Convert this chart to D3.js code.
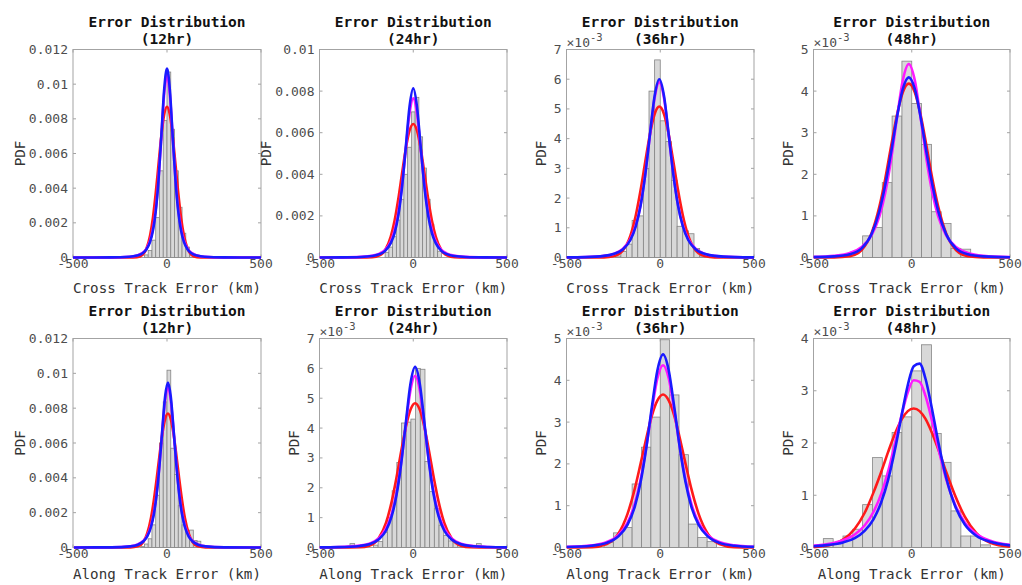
<!DOCTYPE html>
<html>
<head>
<meta charset="utf-8">
<script src="https://cdn.jsdelivr.net/npm/d3@7"></script>
<style>
  body { margin: 0; background: #fff; }
  text { font-family: "DejaVu Sans Mono", monospace; }
</style>
</head>
<body>
<div class="chart"></div>
<script>
// PDF values are in units of 1e-3, x values in km

var hours = ["12hr", "24hr", "36hr", "48hr"];
var rowLabels = ["Cross Track Error (km)", "Along Track Error (km)"];
var xTicks = [-500, 0, 500];
var yMax = [12, 10, 7, 5, 12, 7, 5, 4];
var yStep = [2, 2, 1, 1, 2, 1, 1, 1];
var useExponent = [false, false, true, true, false, true, true, true];

// histogram bins: first left edge, bin width, heights
var binStart = [-120, -290, -240, -250, -140, -337.5, -300, -450];
var binWidth = [20, 20, 30, 50, 20, 25, 50, 50];
var histCross12 = [0.15, 0.4, 1.0, 2.3, 5.0, 7.9, 10.7, 7.4, 5.0, 2.9, 1.4, 0.6, 0.25, 0.1];
var histCross24 = [0.05, 0, 0, 0, 0, 0, 0, 0.25, 0.5, 1.0, 1.8, 2.8, 4.0, 5.3, 7.0, 7.7, 5.8, 4.3, 2.8, 1.6, 0.8, 0.3];
var histCross36 = [0.05, 0.2, 0.45, 1.25, 1.4, 3.0, 5.6, 6.65, 4.6, 3.9, 2.6, 1.05, 0.9, 0.8, 0.3, 0.05];
var histCross48 = [0.52, 0.72, 1.8, 3.4, 4.72, 3.7, 2.72, 1.1, 0.82, 0.22, 0.2];
var histAlong12 = [0.05, 0.2, 0.5, 1.3, 3.0, 6.0, 8.36, 10.18, 5.7, 4.2, 2.4, 1.3, 0.9, 1.0, 0.4, 0.36, 0.05];
var histAlong24 = [0.13, 0, 0, 0, 0, 0.08, 0.2, 0.5, 1.0, 1.9, 2.85, 4.17, 4.2, 4.3, 6.0, 5.97, 2.88, 1.87, 1.3, 0.75, 0.4, 0.22, 0.2, 0.08, 0, 0, 0, 0.13, 0, 0, 0, 0.03];
var histAlong36 = [0.12, 0.35, 0.48, 1.52, 2.4, 3.12, 4.97, 3.65, 2.22, 0.56, 0.24, 0.14];
var histAlong48 = [0.17, 0.08, 0.22, 0.35, 0.82, 1.72, 1.37, 2.2, 2.5, 3.38, 3.88, 2.18, 1.63, 0.7, 0.22, 0.22, 0.05];

// fitted curves (red, magenta, blue)
var xCross12 = [-500, -300, -200, -160, -130, -110, -90, -75, -60, -45, -30, -15, 0, 15, 30, 45, 60, 75, 90, 110, 130, 160, 200, 300, 500];
var redCross12 = [0, 0, 0, 0.02, 0.16, 0.49, 1.27, 2.29, 3.71, 5.38, 7.03, 8.25, 8.7, 8.25, 7.03, 5.38, 3.71, 2.29, 1.27, 0.49, 0.16, 0.02, 0, 0, 0];
var magCross12 = [0.001, 0.007, 0.045, 0.12, 0.27, 0.50, 0.98, 1.64, 2.76, 4.55, 6.99, 9.43, 10.5, 9.43, 6.99, 4.55, 2.76, 1.64, 0.98, 0.50, 0.27, 0.12, 0.045, 0.007, 0.001];
var blueCross12 = [0.001, 0.006, 0.04, 0.11, 0.24, 0.46, 0.90, 1.54, 2.65, 4.48, 7.05, 9.70, 10.9, 9.70, 7.05, 4.48, 2.65, 1.54, 0.90, 0.46, 0.24, 0.11, 0.04, 0.006, 0.001];

var xCross24 = [-500, -380, -280, -220, -180, -150, -120, -100, -80, -60, -40, -20, 0, 20, 40, 60, 80, 100, 120, 150, 180, 220, 280, 380, 500];
var redCross24 = [0, 0, 0, 0.01, 0.10, 0.35, 1.00, 1.75, 2.80, 4.03, 5.22, 6.10, 6.42, 6.10, 5.22, 4.03, 2.80, 1.75, 1.00, 0.35, 0.10, 0.01, 0, 0, 0];
var magCross24 = [0.002, 0.007, 0.031, 0.085, 0.19, 0.37, 0.77, 1.29, 2.13, 3.45, 5.20, 6.91, 7.65, 6.91, 5.20, 3.45, 2.13, 1.29, 0.77, 0.37, 0.19, 0.085, 0.031, 0.007, 0.002];
var blueCross24 = [0.002, 0.006, 0.024, 0.07, 0.16, 0.32, 0.69, 1.16, 2.00, 3.37, 5.28, 7.24, 8.13, 7.24, 5.28, 3.37, 2.00, 1.16, 0.69, 0.32, 0.16, 0.07, 0.024, 0.006, 0.002];

var xCross36 = [-500, -400, -300, -250, -200, -160, -130, -105, -80, -55, -30, -5, 20, 45, 70, 95, 120, 150, 190, 240, 290, 400, 500];
var redCross36 = [0, 0, 0.005, 0.04, 0.23, 0.72, 1.43, 2.26, 3.22, 4.15, 4.83, 5.08, 4.83, 4.15, 3.22, 2.26, 1.43, 0.72, 0.23, 0.04, 0.005, 0, 0];
var magCross36 = [0.005, 0.015, 0.057, 0.12, 0.29, 0.61, 1.09, 1.77, 2.80, 4.12, 5.37, 5.9, 5.37, 4.12, 2.80, 1.77, 1.09, 0.61, 0.29, 0.12, 0.057, 0.015, 0.005];
var blueCross36 = [0.005, 0.014, 0.054, 0.12, 0.27, 0.58, 1.06, 1.74, 2.78, 4.14, 5.44, 6.0, 5.44, 4.14, 2.78, 1.74, 1.06, 0.58, 0.27, 0.12, 0.054, 0.014, 0.005];

var xCross48 = [-500, -395, -315, -255, -205, -165, -135, -105, -75, -45, -15, 15, 45, 75, 105, 135, 175, 225, 285, 365, 500];
var redCross48 = [0, 0.002, 0.03, 0.18, 0.58, 1.22, 1.89, 2.68, 3.43, 3.98, 4.18, 3.98, 3.43, 2.68, 1.89, 1.22, 0.58, 0.18, 0.03, 0.002, 0];
var magCross48 = [0.014, 0.042, 0.11, 0.25, 0.53, 0.98, 1.55, 2.36, 3.36, 4.27, 4.65, 4.27, 3.36, 2.36, 1.55, 0.98, 0.53, 0.25, 0.11, 0.042, 0.012];
var blueCross48 = [0.01, 0.027, 0.08, 0.22, 0.56, 1.11, 1.74, 2.53, 3.38, 4.06, 4.33, 4.06, 3.38, 2.53, 1.74, 1.11, 0.56, 0.22, 0.08, 0.027, 0.007];

var xAlong12 = [-495, -295, -195, -155, -125, -105, -85, -70, -55, -40, -25, -10, 5, 20, 35, 50, 65, 80, 95, 115, 135, 165, 205, 305, 500];
var redAlong12 = [0, 0, 0.005, 0.066, 0.33, 0.82, 1.71, 2.71, 3.94, 5.28, 6.51, 7.37, 7.69, 7.37, 6.51, 5.28, 3.94, 2.71, 1.71, 0.82, 0.33, 0.066, 0.005, 0, 0];
var magAlong12 = [0.001, 0.011, 0.07, 0.18, 0.39, 0.69, 1.26, 1.99, 3.12, 4.74, 6.70, 8.45, 9.2, 8.45, 6.70, 4.74, 3.12, 1.99, 1.26, 0.69, 0.39, 0.18, 0.07, 0.011, 0.001];
var blueAlong12 = [0.001, 0.01, 0.064, 0.16, 0.36, 0.64, 1.19, 1.91, 3.05, 4.71, 6.77, 8.67, 9.47, 8.67, 6.77, 4.71, 3.05, 1.91, 1.19, 0.64, 0.36, 0.16, 0.064, 0.01, 0.001];

var xAlong24 = [-500, -400, -285, -235, -185, -145, -115, -90, -65, -40, -15, 10, 35, 60, 85, 110, 135, 165, 205, 255, 305, 400, 500];
var redAlong24 = [0, 0, 0.008, 0.06, 0.30, 0.83, 1.54, 2.32, 3.20, 4.02, 4.61, 4.83, 4.61, 4.02, 3.20, 2.32, 1.54, 0.83, 0.30, 0.06, 0.008, 0, 0];
var magAlong24 = [0.006, 0.015, 0.062, 0.13, 0.30, 0.64, 1.13, 1.81, 2.82, 4.08, 5.26, 5.75, 5.26, 4.08, 2.82, 1.81, 1.13, 0.64, 0.30, 0.13, 0.062, 0.018, 0.006];
var blueAlong24 = [0.005, 0.013, 0.053, 0.11, 0.27, 0.57, 1.05, 1.73, 2.78, 4.15, 5.48, 6.05, 5.48, 4.15, 2.78, 1.73, 1.05, 0.57, 0.27, 0.11, 0.053, 0.016, 0.005];

var xAlong36 = [-500, -365, -285, -225, -175, -135, -105, -75, -45, -15, 15, 45, 75, 105, 135, 165, 205, 255, 315, 395, 500];
var redAlong36 = [0, 0.008, 0.083, 0.32, 0.80, 1.42, 2.00, 2.60, 3.15, 3.52, 3.66, 3.52, 3.15, 2.60, 2.00, 1.42, 0.80, 0.32, 0.083, 0.008, 0];
var magAlong36 = [0.014, 0.052, 0.13, 0.29, 0.59, 1.06, 1.62, 2.38, 3.27, 4.05, 4.36, 4.05, 3.27, 2.38, 1.62, 1.06, 0.59, 0.29, 0.13, 0.052, 0.018];
var blueAlong36 = [0.012, 0.043, 0.11, 0.26, 0.54, 0.99, 1.56, 2.37, 3.35, 4.24, 4.62, 4.24, 3.35, 2.37, 1.56, 0.99, 0.54, 0.26, 0.11, 0.043, 0.015];

var xAlong48 = [-500, -420, -350, -290, -240, -195, -155, -120, -85, -50, -20, 10, 40, 70, 100, 135, 175, 220, 270, 330, 400, 500];
var redAlong48 = [0.008, 0.044, 0.15, 0.36, 0.66, 1.05, 1.45, 1.83, 2.18, 2.46, 2.61, 2.66, 2.61, 2.46, 2.22, 1.88, 1.45, 1.00, 0.59, 0.27, 0.09, 0.013];
var magAlong48 = [0.036, 0.071, 0.14, 0.25, 0.42, 0.68, 1.03, 1.46, 2.00, 2.56, 2.97, 3.20, 3.17, 2.90, 2.47, 1.90, 1.31, 0.83, 0.48, 0.26, 0.13, 0.052];
var blueAlong48 = [0.025, 0.050, 0.098, 0.18, 0.32, 0.54, 0.87, 1.30, 1.88, 2.56, 3.11, 3.47, 3.52, 3.23, 2.71, 2.02, 1.34, 0.80, 0.44, 0.22, 0.11, 0.041];

var hists = [histCross12, histCross24, histCross36, histCross48, histAlong12, histAlong24, histAlong36, histAlong48];
var curveX = [xCross12, xCross24, xCross36, xCross48, xAlong12, xAlong24, xAlong36, xAlong48];
var redFit = [redCross12, redCross24, redCross36, redCross48, redAlong12, redAlong24, redAlong36, redAlong48];
var magFit = [magCross12, magCross24, magCross36, magCross48, magAlong12, magAlong24, magAlong36, magAlong48];
var blueFit = [blueCross12, blueCross24, blueCross36, blueCross48, blueAlong12, blueAlong24, blueAlong36, blueAlong48];

// layout
var svgWidth = 1022, svgHeight = 585;
var colLeft = [73, 319.5, 566.5, 813.5];
var colRight = [261, 507, 754, 1010];
var rowTop = [49.5, 338.5];
var rowBottom = [257.5, 547.5];
var xLabelOffset = [35, 31];

var svg = d3.select(".chart")
  .append("svg")
  .attr("width", svgWidth)
  .attr("height", svgHeight);

var axisColor = "#a3a3a3";
var tickTextColor = "#4d4d4d";

for (var p = 0; p < 8; p++) {
  var row = Math.floor(p / 4), col = p % 4;
  var L = colLeft[col], R = colRight[col], T = rowTop[row], B = rowBottom[row];

  var xScale = d3.scaleLinear().domain([-500, 500]).range([L, R]);
  var yScale = d3.scaleLinear().domain([0, yMax[p]]).range([B, T]);

  var g = svg.append("g");

  // axes box (below data, like MATLAB's default layer)
  g.append("rect")
    .attr("x", L).attr("y", T)
    .attr("width", R - L).attr("height", B - T)
    .attr("fill", "#fff")
    .attr("stroke", axisColor)
    .attr("stroke-width", 1);

  var yTickVals = d3.range(0, yMax[p] + 0.001, yStep[p]);

  // ticks inside on both sides
  yTickVals.forEach(function(v) {
    g.append("line").attr("x1", L).attr("x2", L + 3)
      .attr("y1", yScale(v)).attr("y2", yScale(v)).attr("stroke", axisColor);
    g.append("line").attr("x1", R).attr("x2", R - 3)
      .attr("y1", yScale(v)).attr("y2", yScale(v)).attr("stroke", axisColor);
  });
  xTicks.forEach(function(v) {
    g.append("line").attr("x1", xScale(v)).attr("x2", xScale(v))
      .attr("y1", B).attr("y2", B - 3).attr("stroke", axisColor);
    g.append("line").attr("x1", xScale(v)).attr("x2", xScale(v))
      .attr("y1", T).attr("y2", T + 3).attr("stroke", axisColor);
  });

  // histogram bars
  var clipId = "clip" + p;
  svg.append("clipPath").attr("id", clipId)
    .append("rect").attr("x", L).attr("y", T - 2).attr("width", R - L).attr("height", B - T + 4);

  var bars = hists[p].map(function(h, i) {
    return { x0: binStart[p] + i * binWidth[p], x1: binStart[p] + (i + 1) * binWidth[p], h: h };
  }).filter(function(d) { return d.h > 0; });

  var plot = g.append("g").attr("clip-path", "url(#" + clipId + ")");

  plot.selectAll("rect.bar")
    .data(bars)
    .enter()
    .append("rect")
    .attr("class", "bar")
    .attr("x", d => xScale(d.x0))
    .attr("y", d => yScale(d.h))
    .attr("width", d => xScale(d.x1) - xScale(d.x0))
    .attr("height", d => B - yScale(d.h))
    .attr("fill", "#d8d8d8")
    .attr("stroke", "#858585")
    .attr("stroke-width", 0.8);

  // fitted curves
  var xs = curveX[p];
  var line = d3.line()
    .x(d => xScale(d[0]))
    .y(d => yScale(d[1]))
    .curve(d3.curveMonotoneX);

  [[redFit[p], "#ff1a1a"], [magFit[p], "#ff1aff"], [blueFit[p], "#1a1aff"]].forEach(function(c) {
    plot.append("path")
      .datum(xs.map(function(x, i) { return [x, c[0][i]]; }))
      .attr("d", line)
      .attr("fill", "none")
      .attr("stroke", c[1])
      .attr("stroke-width", 2.6)
      .attr("stroke-linejoin", "round");
  });

  // tick labels
  yTickVals.forEach(function(v) {
    g.append("text")
      .attr("x", L - 5)
      .attr("y", yScale(v))
      .attr("dy", "0.35em")
      .attr("text-anchor", "end")
      .attr("font-size", 13)
      .attr("fill", tickTextColor)
      .text(useExponent[p] ? String(v) : String(v / 1000));
  });
  xTicks.forEach(function(v) {
    g.append("text")
      .attr("x", xScale(v))
      .attr("y", B + 10)
      .attr("text-anchor", "middle")
      .attr("font-size", 13)
      .attr("fill", tickTextColor)
      .text(String(v));
  });

  // exponent marker
  if (useExponent[p]) {
    var ex = g.append("text")
      .attr("x", L)
      .attr("y", T - 3)
      .attr("font-size", 13)
      .attr("fill", tickTextColor);
    ex.append("tspan").text("\u00d710");
    ex.append("tspan").attr("dy", -6).attr("font-size", 10.5).text("-3");
  }

  // titles
  var cx = (L + R) / 2;
  g.append("text")
    .attr("x", cx).attr("y", T - 23)
    .attr("text-anchor", "middle")
    .attr("font-size", 14.5)
    .attr("font-weight", "bold")
    .attr("fill", "#111")
    .text("Error Distribution");
  g.append("text")
    .attr("x", cx).attr("y", T - 6)
    .attr("text-anchor", "middle")
    .attr("font-size", 14.5)
    .attr("font-weight", "bold")
    .attr("fill", "#111")
    .text("(" + hours[col] + ")");

  // axis labels
  g.append("text")
    .attr("x", cx).attr("y", B + xLabelOffset[row])
    .attr("text-anchor", "middle")
    .attr("font-size", 14.2)
    .attr("fill", "#333")
    .text(rowLabels[row]);

  g.append("text")
    .attr("transform", "translate(" + (L - (useExponent[p] ? 25 : 53)) + "," + ((T + B) / 2) + ") rotate(-90)")
    .attr("dy", "0.35em")
    .attr("text-anchor", "middle")
    .attr("font-size", 14.2)
    .attr("fill", "#333")
    .text("PDF");
}
</script>
</body>
</html>
